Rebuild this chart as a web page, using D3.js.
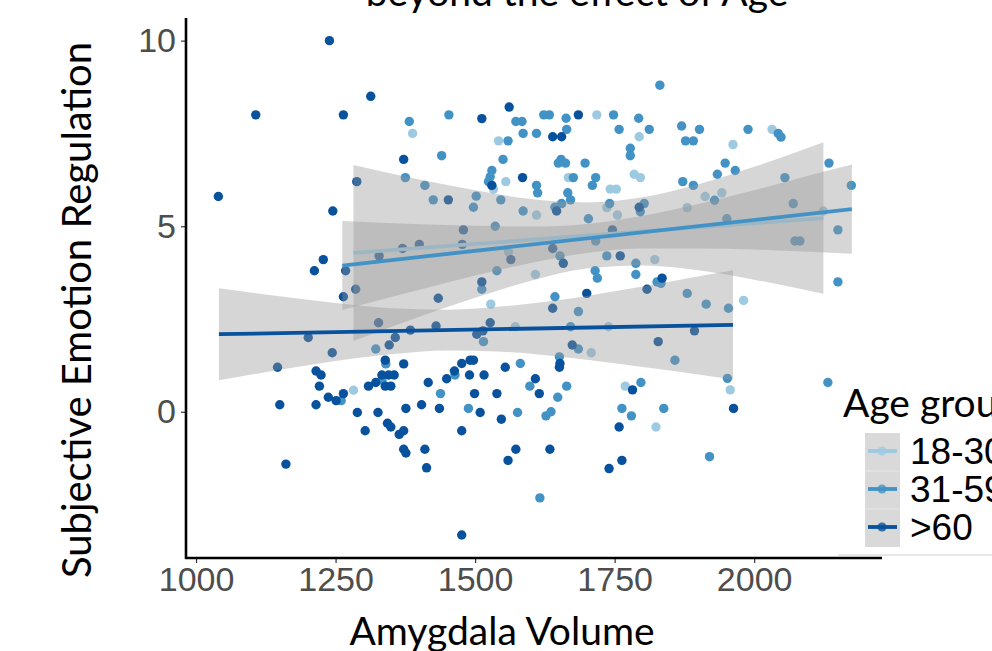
<!DOCTYPE html>
<html>
<head>
<meta charset="utf-8">
<script src="https://cdn.jsdelivr.net/npm/d3@7"></script>
<style>
  body { margin: 0; background: #fff; }
  svg { display: block; }
</style>
</head>
<body>
<svg width="992" height="651"></svg>
<script>
// age groups and their colours
var groups = ['18-30', '31-59', '>60'];
var colors = ['#9ecae1', '#4292c6', '#08519c'];

// points: [amygdala volume, emotion regulation]
var youngPts = [
  [1388, 7.5], [1542, 7.3], [1533, 6.0], [1555, 6.2], [1560, 4.31], [1718, 8.0], [1794, 7.41],
  [2032, 7.61], [1962, 7.2], [2124, 5.41], [1912, 5.8], [1942, 5.9], [1880, 5.5], [1667, 6.31],
  [1742, 6.0], [1753, 6.0], [1736, 5.5], [1755, 5.3], [1785, 6.4], [1796, 6.31], [1822, 4.1],
  [1608, 3.7], [1981, 3.0], [1610, 5.3], [1528, 2.9], [1572, 2.29], [1282, 0.58], [1708, 1.59],
  [1739, 2.29], [1957, 0.59], [1769, 0.69], [1824, -0.41]
];
var midPts = [
  [1382, 7.82], [1453, 8.0], [1573, 7.82], [1584, 7.82], [1586, 7.5], [1559, 7.3], [1440, 6.9],
  [1550, 6.8], [1530, 6.5], [1527, 6.33], [1524, 6.2], [1375, 6.31], [1410, 6.1], [1425, 5.71],
  [1502, 5.81], [1497, 5.51], [1546, 5.71], [1586, 5.41], [1536, 5.0], [1539, 3.8], [1512, 3.3],
  [1831, 8.8], [1610, 7.5], [1623, 8.0], [1633, 8.0], [1663, 7.91], [1664, 7.61], [1748, 8.0],
  [1758, 7.61], [1793, 7.91], [1812, 7.61], [1778, 7.1], [1778, 6.9], [1870, 7.7], [1877, 7.3],
  [1891, 7.3], [1902, 7.61], [1989, 7.61], [2043, 7.5], [2048, 7.4], [1948, 6.7], [1966, 6.5],
  [1934, 6.4], [1872, 6.2], [1891, 6.1], [2134, 6.7], [2174, 6.1], [2055, 6.31], [2070, 5.61],
  [2150, 4.9], [2073, 4.6], [2082, 4.6], [2150, 3.5], [1929, 5.7], [1951, 5.2], [1610, 6.1],
  [1612, 5.9], [1643, 5.51], [1655, 5.61], [1654, 6.8], [1662, 6.7], [1649, 6.7], [1676, 6.31],
  [1697, 6.7], [1716, 6.31], [1710, 6.1], [1666, 5.9], [1671, 5.71], [1741, 5.61], [1703, 5.2],
  [1796, 5.39], [1803, 5.61], [1716, 4.6], [1652, 4.2], [1736, 4.2], [1788, 4.0], [1715, 3.8],
  [1719, 3.6], [1788, 3.7], [1826, 3.5], [1833, 3.46], [1880, 3.19], [1643, 3.1],
  [1515, 1.89], [1322, 1.69], [1340, 1.29], [1333, 0.85], [1260, 0.3], [1464, 0.99], [1581, 1.3],
  [1598, 0.69], [1438, 0.49], [1488, 0.09], [1576, -0.02], [1648, 0.39], [1627, -0.11],
  [1636, 0.0], [1616, -2.32], [1664, 0.69], [1651, 1.48], [1685, 2.7], [1671, 2.29], [1685, 1.69],
  [1914, 2.9], [1954, 2.79], [1858, 1.39], [1952, 0.9], [2132, 0.79], [1797, 0.79], [1763, 0.09],
  [1780, -0.11], [1838, 0.09], [1920, -1.21]
];
var oldPts = [
  [1239, 10.0], [1107, 8.0], [1313, 8.5], [1264, 8.0], [1040, 5.8], [1245, 5.41], [1512, 7.9],
  [1561, 8.21], [1372, 6.8], [1530, 6.1], [1585, 6.31], [1288, 6.2], [1452, 5.71], [1479, 4.9],
  [1370, 4.4], [1400, 4.51], [1477, 4.51], [1328, 4.2], [1564, 4.1], [1268, 3.8], [1512, 3.5],
  [1286, 3.3], [1264, 3.1], [1228, 4.1], [1212, 3.8], [1434, 3.06], [1685, 8.0], [1639, 7.41],
  [1655, 7.41], [1794, 5.51], [1646, 5.41], [1746, 4.9], [1639, 4.4], [1658, 4.0], [1760, 4.2],
  [1835, 3.6], [1808, 3.3], [1700, 3.19], [1327, 2.4], [1430, 2.31], [1527, 2.4], [1201, 2.0],
  [1384, 2.2], [1503, 2.09], [1514, 2.18], [1357, 2.0], [1346, 1.8], [1244, 1.59], [1146, 1.2],
  [1339, 1.39], [1372, 1.29], [1215, 1.1], [1224, 0.99], [1221, 0.69], [1333, 0.99], [1345, 0.99],
  [1355, 0.99], [1322, 0.79], [1309, 0.69], [1339, 0.69], [1349, 0.69], [1264, 0.49], [1237, 0.39],
  [1251, 0.3], [1150, 0.19], [1215, 0.19], [1289, -0.02], [1326, -0.02], [1376, 0.09], [1416, 0.79],
  [1449, 0.89], [1463, 1.1], [1476, 1.3], [1491, 1.39], [1497, 1.39], [1490, 0.99], [1516, 0.99],
  [1554, 1.2], [1499, 0.49], [1539, 0.49], [1404, 0.19], [1436, 0.09], [1509, -0.02], [1547, -0.2],
  [1303, -0.51], [1343, -0.31], [1349, -0.41], [1364, -0.61], [1372, -0.51], [1372, -1.01],
  [1376, -1.11], [1410, -1.01], [1413, -1.51], [1476, -0.51], [1573, -1.01], [1559, -1.31],
  [1161, -1.41], [1476, -3.32], [1615, 0.49], [1634, -1.01], [1608, 0.89], [1652, 1.3], [1651, 1.2],
  [1639, 2.79], [1674, 1.8], [1893, 2.18], [1828, 1.89], [1963, 0.09], [1782, 0.59], [1758, -0.41],
  [1740, -1.53], [1763, -1.31]
];

// fitted lines (start / end) per group
var fitX = [[1282, 2124], [1262, 2175], [1041, 1962]];
var fitY = [[4.28, 5.22], [3.94, 5.46], [2.09, 2.34]];

// confidence bands read at a few volumes
var bandX = [
  [1282, 1400, 1500, 1600, 1700, 1800, 1900, 2000, 2124],
  [1262, 1400, 1500, 1600, 1700, 1800, 1900, 2000, 2100, 2175],
  [1041, 1150, 1250, 1350, 1450, 1550, 1650, 1750, 1850, 1962]
];
var bandLo = [
  [1.91, 2.56, 3.07, 3.53, 3.86, 3.94, 3.81, 3.56, 3.18],
  [2.74, 3.29, 3.67, 4.01, 4.28, 4.40, 4.40, 4.37, 4.31, 4.26],
  [0.85, 1.13, 1.37, 1.55, 1.65, 1.62, 1.49, 1.31, 1.11, 0.87]
];
var bandHi = [
  [6.65, 6.26, 5.97, 5.73, 5.64, 5.78, 6.13, 6.60, 7.26],
  [5.14, 5.05, 5.01, 4.99, 5.06, 5.28, 5.60, 5.97, 6.37, 6.66],
  [3.33, 3.11, 2.93, 2.79, 2.75, 2.84, 3.01, 3.25, 3.51, 3.81]
];

var xTicks = [1000, 1250, 1500, 1750, 2000];
var yTicks = [0, 5, 10];

var svg = d3.select('svg');
var mLeft = 186, mRight = 882, mTop = 18, mBottom = 558;

var x = d3.scaleLinear().domain([982, 2229]).range([mLeft, mRight]);
var y = d3.scaleLinear().domain([-3.94, 10.61]).range([mBottom, mTop]);

var humanist = 'Lato, "Open Sans", sans-serif';
var sans = '"Liberation Sans", Arial, sans-serif';

// points
var allPts = [youngPts, midPts, oldPts];
allPts.forEach(function (pts, i) {
  svg.append('g').selectAll('circle')
    .data(pts)
    .enter().append('circle')
    .attr('cx', function (d) { return x(d[0]); })
    .attr('cy', function (d) { return y(d[1]); })
    .attr('r', 4.7)
    .attr('fill', colors[i]);
});

// bands + lines, one group after the other (like geom_smooth)
var area = d3.area().curve(d3.curveMonotoneX)
  .x(function (d) { return x(d.x); })
  .y0(function (d) { return y(d.lo); })
  .y1(function (d) { return y(d.hi); });

groups.forEach(function (g, i) {
  var rows = bandX[i].map(function (v, j) { return { x: v, lo: bandLo[i][j], hi: bandHi[i][j] }; });
  svg.append('path')
    .attr('d', area(rows))
    .attr('fill', '#999999')
    .attr('fill-opacity', 0.4);
  svg.append('line')
    .attr('x1', x(fitX[i][0])).attr('y1', y(fitY[i][0]))
    .attr('x2', x(fitX[i][1])).attr('y2', y(fitY[i][1]))
    .attr('stroke', colors[i])
    .attr('stroke-width', 3.8);
});

// axes
var xAxis = svg.append('g')
  .attr('transform', 'translate(0,' + mBottom + ')')
  .call(d3.axisBottom(x).tickValues(xTicks).tickFormat(d3.format('d')).tickSize(5).tickPadding(4));
var yAxis = svg.append('g')
  .attr('transform', 'translate(' + mLeft + ',0)')
  .call(d3.axisLeft(y).tickValues(yTicks).tickFormat(d3.format('d')).tickSize(5).tickPadding(5));

[xAxis, yAxis].forEach(function (ax) {
  ax.select('.domain').remove();
  ax.selectAll('.tick line').attr('stroke', '#333').attr('stroke-width', 1.2);
  ax.selectAll('.tick text')
    .attr('fill', '#4d4d4d')
    .style('font-family', sans)
    .style('font-size', '34px');
});

svg.append('line')
  .attr('x1', mLeft).attr('x2', mLeft).attr('y1', mTop).attr('y2', mBottom + 1)
  .attr('stroke', '#000').attr('stroke-width', 2.6);
svg.append('line')
  .attr('x1', mLeft - 1).attr('x2', mRight).attr('y1', mBottom).attr('y2', mBottom)
  .attr('stroke', '#000').attr('stroke-width', 2.6);

// titles (only the last line of the plot title is inside the picture)
svg.append('text')
  .attr('x', 577).attr('y', 6)
  .attr('text-anchor', 'middle')
  .style('font-family', humanist).style('font-size', '39px')
  .text('beyond the effect of Age');

svg.append('text')
  .attr('x', 502).attr('y', 645)
  .attr('text-anchor', 'middle')
  .style('font-family', humanist).style('font-size', '39px')
  .text('Amygdala Volume');

svg.append('text')
  .attr('transform', 'translate(91,310) rotate(-90)')
  .attr('text-anchor', 'middle')
  .style('font-family', humanist).style('font-size', '40px')
  .text('Subjective Emotion Regulation');

// legend
var leg = svg.append('g');
leg.append('text')
  .attr('x', 843).attr('y', 417)
  .style('font-family', humanist).style('font-size', '39px')
  .text('Age group');

var keyY = [451, 489, 527];
leg.append('rect')
  .attr('x', 865).attr('y', 433).attr('width', 35).attr('height', 114)
  .attr('fill', '#d9d9d9');
[471, 509].forEach(function (v) {
  leg.append('line').attr('x1', 865).attr('x2', 900).attr('y1', v).attr('y2', v)
    .attr('stroke', '#e8e8e8').attr('stroke-width', 1);
});
groups.forEach(function (g, i) {
  leg.append('line')
    .attr('x1', 868).attr('x2', 897).attr('y1', keyY[i]).attr('y2', keyY[i])
    .attr('stroke', colors[i]).attr('stroke-width', 3.8);
  leg.append('circle')
    .attr('cx', 882).attr('cy', keyY[i]).attr('r', 4.6)
    .attr('fill', colors[i]).attr('fill-opacity', 0.8);
  leg.append('text')
    .attr('x', 910).attr('y', keyY[i] + 13)
    .style('font-family', sans).style('font-size', '37px')
    .text(g);
});
leg.append('line')
  .attr('x1', 838).attr('x2', 992).attr('y1', 555).attr('y2', 555)
  .attr('stroke', '#d0d0d0').attr('stroke-width', 1);
</script>
</body>
</html>
